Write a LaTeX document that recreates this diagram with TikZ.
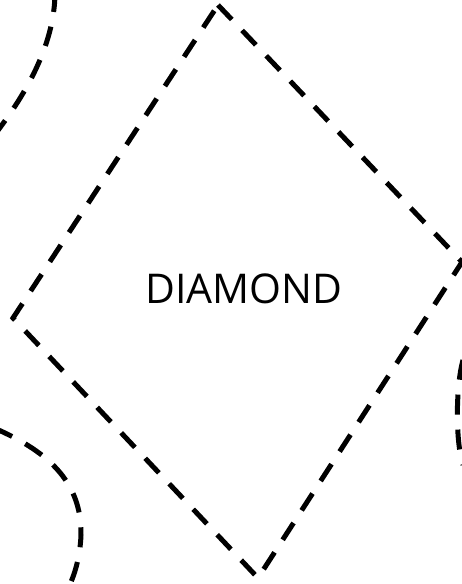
\documentclass[tikz,border=0pt]{standalone}
\usepackage{fontspec}
\setmainfont{Open Sans}
\begin{document}
\begin{tikzpicture}[x=1pt,y=-1pt,
  dashline/.style={line width=5pt,dash pattern=on 20pt off 15pt},
  label/.style={font=\fontsize{41}{44}\selectfont, inner sep=0pt}]
\useasboundingbox (0,0) rectangle (462,584);
\coordinate (T) at (218,5);
\coordinate (R) at (462,262);
\coordinate (B) at (258,578);
\coordinate (L) at (13,318);
\draw[dashline] (T) -- (R) -- (B) -- (L) -- cycle;
\node[label, anchor=base] (d) at (244,303) {DIAMOND};
% top-left arc
\coordinate (a1) at (55,-8);
\coordinate (a2) at (-8,138);
\draw[dashline] (a1) .. controls (55,40) and (30,90) .. (a2);
% bottom-left arc
\coordinate (b1) at (-6,428);
\coordinate (b2) at (66,592);
\draw[dashline] (b1) .. controls (45,450) and (82,480) .. (81,535) .. controls (80,560) and (73,580) .. (b2);
% right arc
\coordinate (c1) at (463,360);
\coordinate (c2) at (463,465);
\draw[dashline] (c1) .. controls (456,385) and (455,440) .. (c2);
\end{tikzpicture}
\end{document}
